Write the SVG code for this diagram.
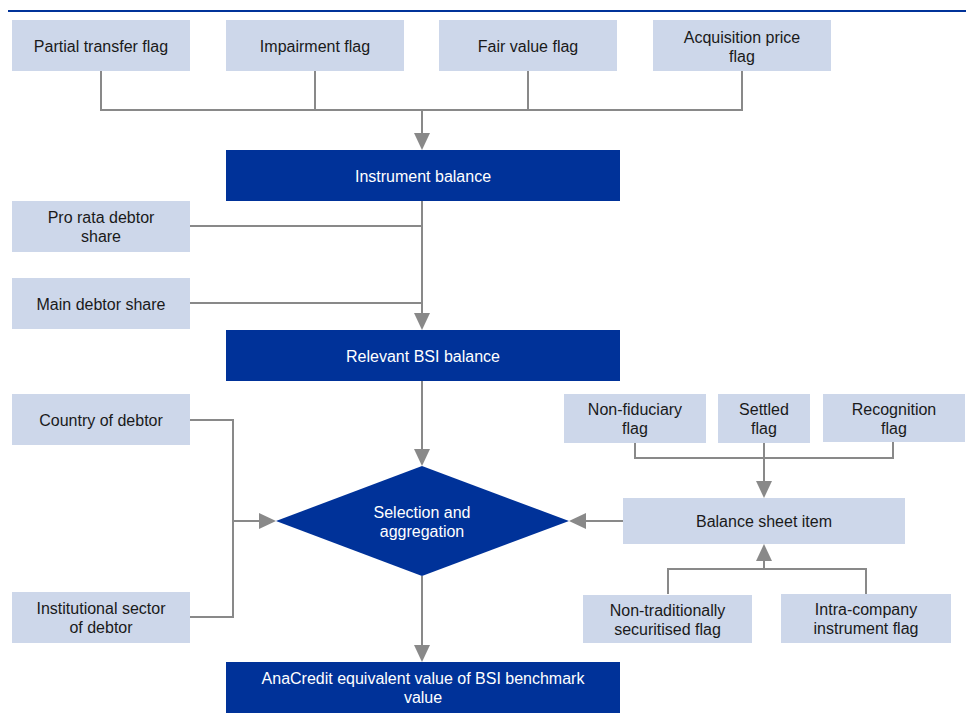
<svg xmlns="http://www.w3.org/2000/svg" width="966" height="725" viewBox="0 0 966 725">
<style>
.lb{fill:#cdd7ea}
.db{fill:#003299}
.t{font-family:"Liberation Sans",Arial,sans-serif;font-size:16px;fill:#1a1a1a;text-anchor:middle}
.w{fill:#ffffff}
.c{fill:none;stroke:#898989;stroke-width:2}
</style>
<defs>
<marker id="ah" markerUnits="userSpaceOnUse" markerWidth="17" markerHeight="16" refX="9" refY="8" orient="auto" viewBox="0 0 17 16">
<path d="M0,0 L17,8 L0,16 z" fill="#898989"/>
</marker>
</defs>
<rect x="0" y="0" width="966" height="725" fill="#ffffff"/>
<line x1="8" y1="11" x2="966" y2="11" stroke="#003299" stroke-width="2"/>

<g id="connectors">
<path class="c" d="M101,71 V110 H742 V71"/>
<path class="c" d="M315,71 V110"/>
<path class="c" d="M528,71 V110"/>
<path class="c" d="M422,110 V142" marker-end="url(#ah)"/>
<path class="c" d="M190,226 H422"/>
<path class="c" d="M190,303 H422"/>
<path class="c" d="M422,201 V322" marker-end="url(#ah)"/>
<path class="c" d="M422,381 V458" marker-end="url(#ah)"/>
<path class="c" d="M422,576 V654" marker-end="url(#ah)"/>
<path class="c" d="M190,420 H233 V617 H190"/>
<path class="c" d="M233,521 H268" marker-end="url(#ah)"/>
<path class="c" d="M635,443 V458 H893 V442"/>
<path class="c" d="M764,443 V490" marker-end="url(#ah)"/>
<path class="c" d="M623,521 H577" marker-end="url(#ah)"/>
<path class="c" d="M668,594 V569 H866 V594"/>
<path class="c" d="M764,569 V552" marker-end="url(#ah)"/>
</g>

<g id="partial-transfer-flag">
<rect class="lb" x="12" y="20" width="178" height="51"/>
<text class="t" x="101" y="52">Partial transfer flag</text>
</g>
<g id="impairment-flag">
<rect class="lb" x="226" y="20" width="178" height="51"/>
<text class="t" x="315" y="52">Impairment flag</text>
</g>
<g id="fair-value-flag">
<rect class="lb" x="439" y="20" width="178" height="51"/>
<text class="t" x="528" y="52">Fair value flag</text>
</g>
<g id="acquisition-price-flag">
<rect class="lb" x="653" y="20" width="178" height="51"/>
<text class="t" x="742" y="42.5">Acquisition price</text>
<text class="t" x="742" y="61.5">flag</text>
</g>
<g id="instrument-balance">
<rect class="db" x="226" y="150" width="394" height="51"/>
<text class="t w" x="423" y="181.5">Instrument balance</text>
</g>
<g id="pro-rata-debtor-share">
<rect class="lb" x="12" y="201" width="178" height="51"/>
<text class="t" x="101" y="222.5">Pro rata debtor</text>
<text class="t" x="101" y="241.5">share</text>
</g>
<g id="main-debtor-share">
<rect class="lb" x="12" y="278" width="178" height="51"/>
<text class="t" x="101" y="309.5">Main debtor share</text>
</g>
<g id="relevant-bsi-balance">
<rect class="db" x="226" y="330" width="394" height="51"/>
<text class="t w" x="423" y="361.5">Relevant BSI balance</text>
</g>
<g id="country-of-debtor">
<rect class="lb" x="12" y="394" width="178" height="51"/>
<text class="t" x="101" y="426">Country of debtor</text>
</g>
<g id="institutional-sector-of-debtor">
<rect class="lb" x="12" y="592" width="178" height="51"/>
<text class="t" x="101" y="613.5">Institutional sector</text>
<text class="t" x="101" y="632.5">of debtor</text>
</g>
<g id="selection-and-aggregation">
<polygon class="db" points="276,521 422,466 569,521 422,576"/>
<text class="t w" x="422" y="518">Selection and</text>
<text class="t w" x="422" y="537">aggregation</text>
</g>
<g id="anacredit-equivalent-value">
<rect class="db" x="226" y="662" width="394" height="51"/>
<text class="t w" x="423" y="684">AnaCredit equivalent value of BSI benchmark</text>
<text class="t w" x="423" y="703">value</text>
</g>
<g id="non-fiduciary-flag">
<rect class="lb" x="564" y="394" width="142" height="49"/>
<text class="t" x="635" y="415">Non-fiduciary</text>
<text class="t" x="635" y="434">flag</text>
</g>
<g id="settled-flag">
<rect class="lb" x="718" y="394" width="92" height="49"/>
<text class="t" x="764" y="415">Settled</text>
<text class="t" x="764" y="434">flag</text>
</g>
<g id="recognition-flag">
<rect class="lb" x="823" y="394" width="142" height="48"/>
<text class="t" x="894" y="414.5">Recognition</text>
<text class="t" x="894" y="433.5">flag</text>
</g>
<g id="balance-sheet-item">
<rect class="lb" x="623" y="498" width="282" height="46"/>
<text class="t" x="764" y="527">Balance sheet item</text>
</g>
<g id="non-traditionally-securitised-flag">
<rect class="lb" x="583" y="595" width="169" height="48"/>
<text class="t" x="667.5" y="615.5">Non-traditionally</text>
<text class="t" x="667.5" y="634.5">securitised flag</text>
</g>
<g id="intra-company-instrument-flag">
<rect class="lb" x="781" y="594" width="170" height="49"/>
<text class="t" x="866" y="615">Intra-company</text>
<text class="t" x="866" y="634">instrument flag</text>
</g>
</svg>
